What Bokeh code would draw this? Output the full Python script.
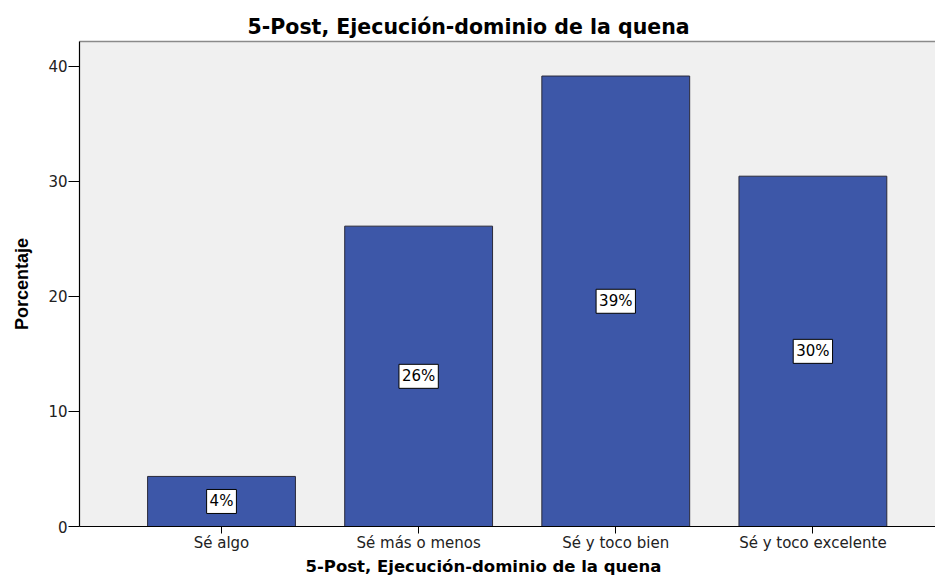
from bokeh.plotting import figure
from bokeh.models import Range1d, FixedTicker, LinearAxis, Title, Label
from bokeh.embed import file_html
from bokeh.resources import INLINE

categories = ["Sé algo", "Sé más o menos", "Sé y toco bien", "Sé y toco excelente"]
percentages = [4.35, 26.09, 39.13, 30.43]
y_ticks = [0, 10, 20, 30, 40]
title_text = "5-Post, Ejecución-dominio de la quena"
x_label = "5-Post, Ejecución-dominio de la quena"
y_label = "Porcentaje"

positions = list(range(1, len(categories) + 1))

FONT = "DejaVu Sans"

p = figure(width=935, height=575, output_backend="svg", toolbar_location=None,
           x_range=Range1d(0.2796, 4.622), y_range=Range1d(0, 42.13),
           min_border_left=79, min_border_right=0, min_border_top=41,
           min_border_bottom=47)

xa = p.below[0]
ya = p.left[0]

p.background_fill_color = "#f0f0f0"
p.border_fill_color = "white"
p.outline_line_color = None
p.xgrid.visible = False
p.ygrid.visible = False

# title
p.title.text = title_text
p.title.align = "left"
p.title.offset = 168
p.title.standoff = 6
p.title.text_font = FONT
p.title.text_font_size = "20.5px"
p.title.text_font_style = "bold"
p.title.text_color = "black"

# top border line (axis without ticks or labels)
top_axis = LinearAxis(ticker=FixedTicker(ticks=[]), axis_line_color="#8a8a8a",
                      axis_line_width=1.5, major_tick_line_color=None,
                      minor_tick_line_color=None, major_tick_out=0, major_tick_in=0,
                      major_label_standoff=0)
p.add_layout(top_axis, "above")

p.vbar(x=positions, top=percentages, width=0.75, bottom=0,
       fill_color="#3d57a8", line_color="#2a2a3a", line_width=1)

for xpos, val in zip(positions, percentages):
    p.add_layout(Label(x=xpos, y=val / 2, text=f"{round(val)}%",
                       text_align="center", text_baseline="middle",
                       text_font=FONT, text_font_size="15px", text_color="black",
                       background_fill_color="white", border_line_color="black",
                       border_line_width=1, padding=3))

# x axis
xa.ticker = FixedTicker(ticks=positions)
xa.major_label_overrides = {pos: cat for pos, cat in zip(positions, categories)}
xa.major_label_text_font = FONT
xa.major_label_text_font_size = "15px"
xa.major_label_text_color = "#222222"
xa.major_tick_out = 7
xa.major_tick_in = 0
xa.major_tick_line_color = "black"
xa.minor_tick_line_color = None
xa.axis_line_color = "black"
xa.axis_line_width = 1.2
xa.major_label_standoff = 0

# y axis
ya.ticker = FixedTicker(ticks=y_ticks)
ya.major_label_text_font = FONT
ya.major_label_text_font_size = "15px"
ya.major_label_text_color = "#222222"
ya.major_tick_out = 11
ya.major_tick_in = 0
ya.major_tick_line_color = "black"
ya.minor_tick_line_color = None
ya.axis_line_color = "black"
ya.axis_line_width = 1.2
ya.major_label_standoff = 1
ya.axis_label = y_label
ya.axis_label_text_font = "Liberation Sans"
ya.axis_label_text_font_size = "18px"
ya.axis_label_text_font_style = "bold"
ya.axis_label_text_color = "black"
ya.axis_label_standoff = 13

# x title below
p.add_layout(Title(text=x_label, align="left", offset=226, standoff=0,
                   text_font=FONT, text_font_size="16.5px", text_font_style="bold",
                   text_line_height=1.0, text_color="black"), "below")

open("out.html", "w").write(file_html(p, INLINE))
